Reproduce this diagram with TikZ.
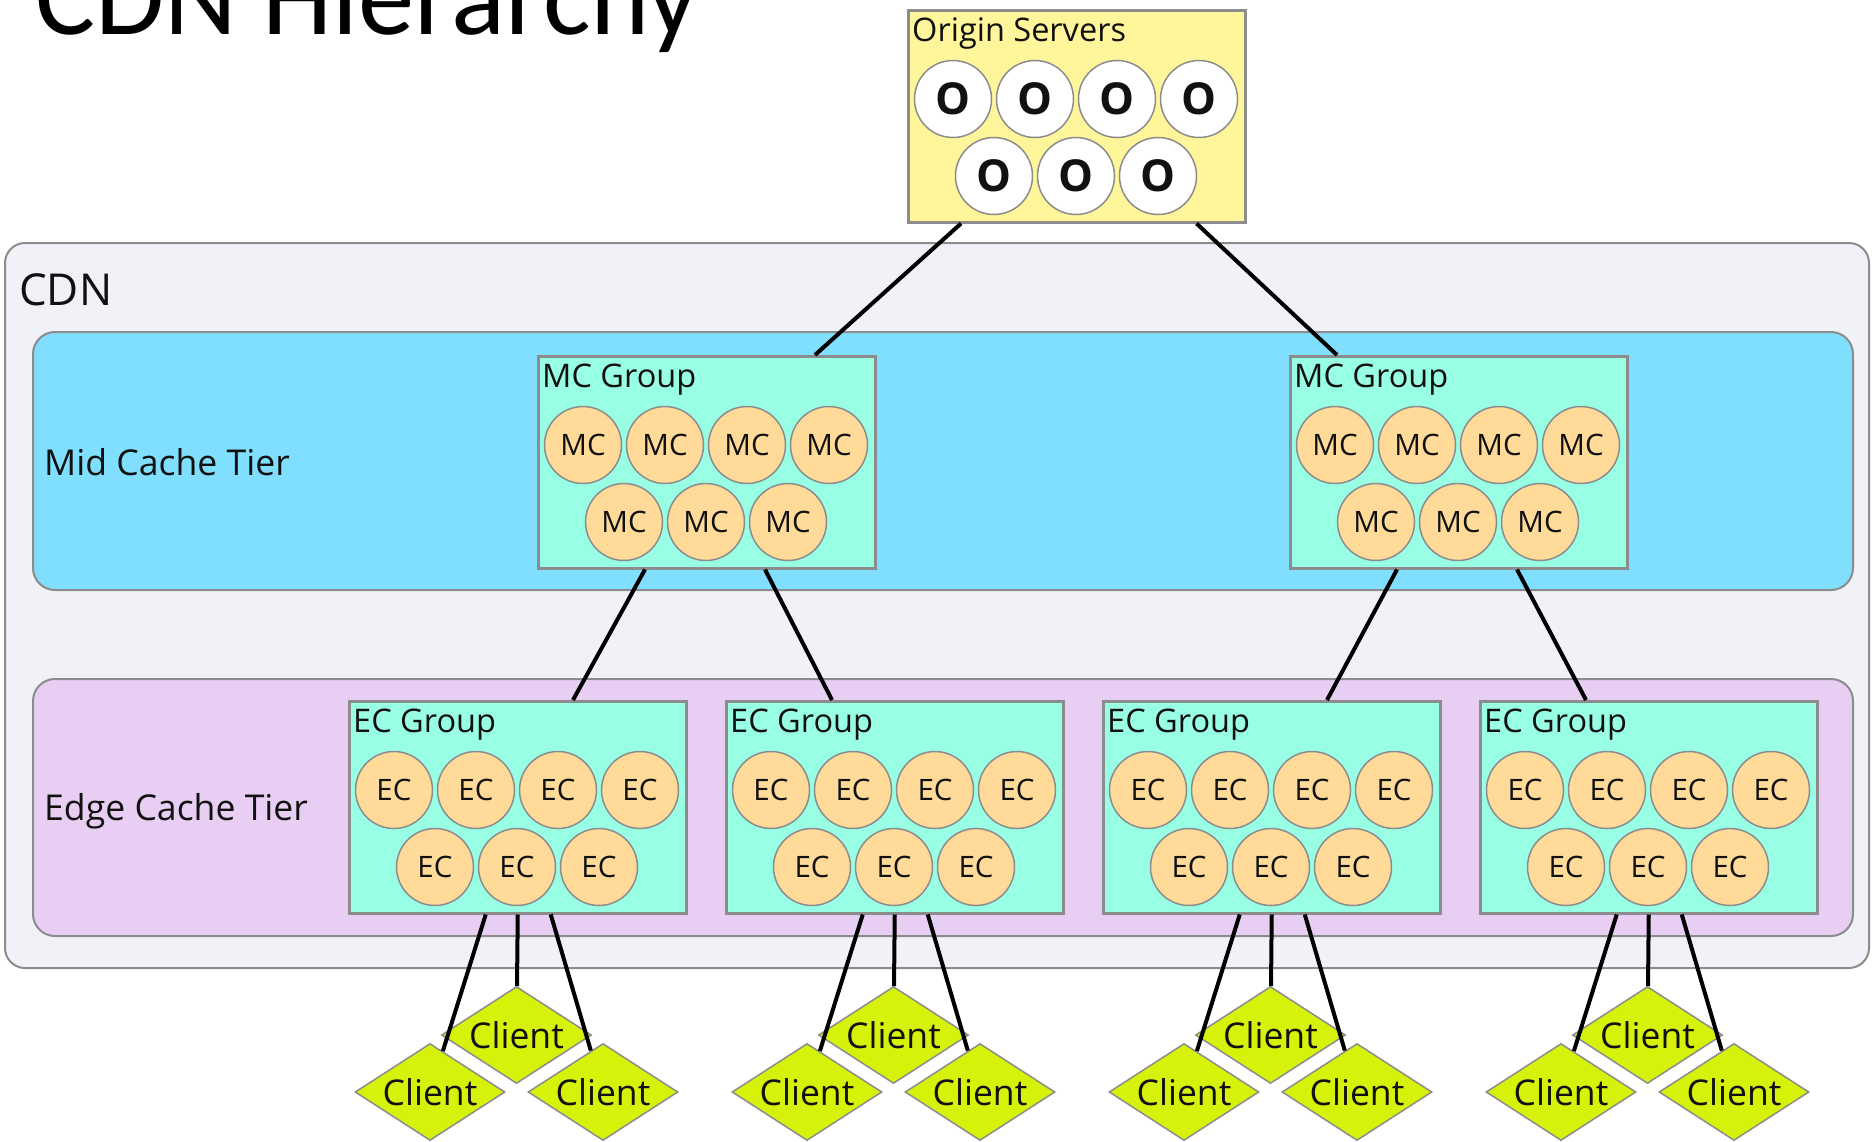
\documentclass[tikz,border=0pt]{standalone}
\usepackage{fontspec}
\setmainfont{Open Sans}
\newfontfamily\titlefont{Carlito}
\usetikzlibrary{shapes.geometric,calc}
\definecolor{origc}{HTML}{FFF59B}
\definecolor{cdnc}{HTML}{F1F2F7}
\definecolor{midc}{HTML}{80DFFF}
\definecolor{edgec}{HTML}{E8CEF3}
\definecolor{grpc}{HTML}{99FFE4}
\definecolor{cachec}{HTML}{FFDA99}
\definecolor{clientc}{HTML}{D6F20A}
\definecolor{bordgray}{HTML}{8C8C8C}
\definecolor{ink}{HTML}{111111}
\tikzset{
  grpbox/.style={draw=bordgray, line width=2.5pt, minimum width=337pt, minimum height=212pt, anchor=north west, inner sep=0pt},
  grplabel/.style={anchor=base west, inner sep=0pt, text=ink, font=\fontsize{32.5}{35}\selectfont},
  cache/.style={circle, draw=bordgray, line width=1.5pt, fill=cachec, minimum size=77pt, inner sep=0pt, text=ink, font=\fontsize{29.5}{31}\selectfont},
  origin/.style={circle, draw=bordgray, line width=1.5pt, fill=white, minimum size=77pt, inner sep=0pt, text=ink, font=\fontsize{44}{46}\selectfont\bfseries},
  tierbox/.style={draw=bordgray, line width=2pt, rounded corners=22pt, anchor=north west, inner sep=0pt},
  tierlabel/.style={anchor=base west, inner sep=0pt, text=ink, font=\fontsize{35.6}{38}\selectfont},
  client/.style={diamond, draw=bordgray, line width=1.5pt, fill=clientc, minimum width=150pt, minimum height=97pt, aspect=1.55, inner sep=0pt, text=ink, font=\fontsize{35.5}{37}\selectfont},
  conn/.style={draw=black, line width=4pt}
}
\newcommand\mkgroup[7]{%
  \node[grpbox, fill=#4] (#1) at (#2,#3) {};
  \node[grplabel] (#1-l) at ([xshift=5pt,yshift=-32pt]#1.north west) {#5};
  \foreach \i/\dx in {1/46,2/128,3/210,4/292}
    \node[#7] (#1-\i) at ([xshift=\dx pt,yshift=-90pt]#1.north west) {#6};
  \foreach \i/\dx in {5/87,6/169,7/251}
    \node[#7] (#1-\i) at ([xshift=\dx pt,yshift=-167pt]#1.north west) {#6};
}
\begin{document}
\begin{tikzpicture}[x=1pt,y=-1pt]
\useasboundingbox (0,0) rectangle (1872,1141);
\clip (0,0) rectangle (1872,1141);
\fill[white] (0,0) rectangle (1872,1141);
% title
\node[anchor=base west, inner sep=0pt, font=\titlefont\fontsize{112.6}{120}\selectfont] (title) at (35,34) {CDN Hierarchy};
% CDN container
\node[tierbox, fill=cdnc, rounded corners=20pt, minimum width=1864pt, minimum height=725pt] (cdn) at (4,242) {};
\node[anchor=base west, inner sep=0pt, text=ink, font=\fontsize{44}{46}\selectfont] (cdnlabel) at (19,305) {CDN};
% tiers
\node[tierbox, fill=midc, minimum width=1820pt, minimum height=258pt] (midtier) at (32,331) {};
\node[tierbox, fill=edgec, minimum width=1820pt, minimum height=257pt] (edgetier) at (32,678) {};
\node[tierlabel] (midlabel) at (44,475) {Mid Cache Tier};
\node[tierlabel] (edgelabel) at (44,820) {Edge Cache Tier};
% groups
\mkgroup{orig}{907}{9}{origc}{Origin Servers}{O}{origin}
\mkgroup{mc1}{537}{355}{grpc}{MC Group}{MC}{cache}
\mkgroup{mc2}{1289}{355}{grpc}{MC Group}{MC}{cache}
\mkgroup{ec1}{348}{700}{grpc}{EC Group}{EC}{cache}
\mkgroup{ec2}{725}{700}{grpc}{EC Group}{EC}{cache}
\mkgroup{ec3}{1102}{700}{grpc}{EC Group}{EC}{cache}
\mkgroup{ec4}{1479}{700}{grpc}{EC Group}{EC}{cache}
% connectors between tiers
\draw[conn] ([xshift=54pt]orig.south west) -- ([xshift=278pt]mc1.north west);
\draw[conn] ([xshift=-50pt]orig.south east) -- ([xshift=48pt]mc2.north west);
\draw[conn] ([xshift=108pt]mc1.south west) -- ([xshift=225pt]ec1.north west);
\draw[conn] ([xshift=228pt]mc1.south west) -- ([xshift=107pt]ec2.north west);
\draw[conn] ([xshift=108pt]mc2.south west) -- ([xshift=225pt]ec3.north west);
\draw[conn] ([xshift=228pt]mc2.south west) -- ([xshift=107pt]ec4.north west);
% clients
\foreach \g/\cx in {ec1/516.5,ec2/893.5,ec3/1270.5,ec4/1647.5}{
  \node[client] (\g-cm) at (\cx,1035) {Client};
  \node[client] (\g-cl) at (\cx-86.5,1092) {Client};
  \node[client] (\g-cr) at (\cx+86.5,1092) {Client};
  \draw[conn] ([xshift=-32pt]\g.south) -- (\g-cl);
  \draw[conn] (\g.south) -- (\g-cm);
  \draw[conn] ([xshift=33pt]\g.south) -- (\g-cr);
}
\end{tikzpicture}
\end{document}
